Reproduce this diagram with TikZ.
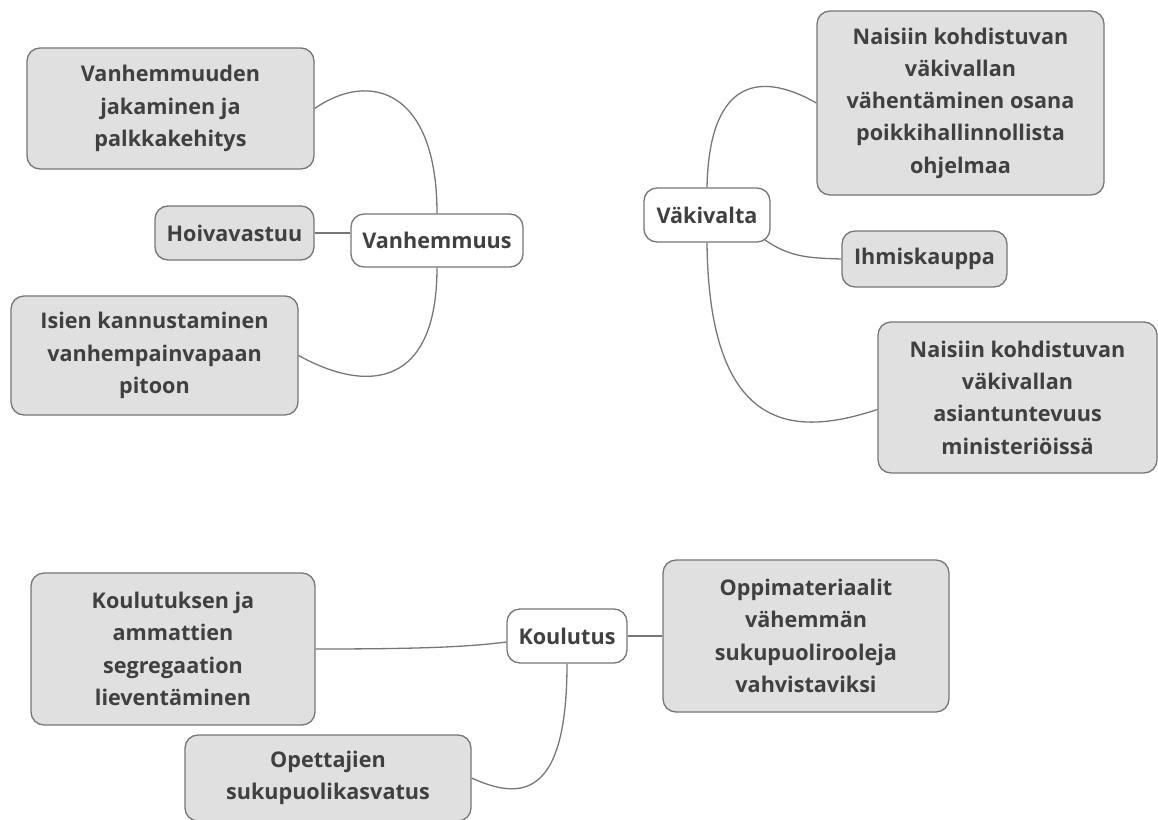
\documentclass[tikz,border=0pt]{standalone}
\usepackage{fontspec}
\setmainfont{Open Sans}
\usepackage{tikz}
\usetikzlibrary{backgrounds}
\definecolor{boxgray}{HTML}{E0E0E0}
\definecolor{rimgray}{HTML}{767676}
\definecolor{inkgray}{HTML}{404040}
\tikzset{
  % solmut
  hub/.style={rectangle,rounded corners=13pt,draw=rimgray,fill=white,line width=1.3pt,
              inner sep=0pt,text=inkgray,align=center},
  topic/.style={hub,fill=boxgray},
  wd/.style={minimum width=#1},
  ht/.style={minimum height=#1},
  % yhteydet
  link/.style={draw=rimgray,line width=1.3pt},
}

\begin{document}
\begin{tikzpicture}[x=1pt,y=-1pt,every node/.append style={font=\bfseries\fontsize{21.6}{32.3}\selectfont}]
  \useasboundingbox (0,0) rectangle (1158,819);
  % Vanhemmuus
  \node[hub,wd=172pt,ht=53pt] (vanh) at (437,240.5) {Vanhemmuus};
  \node[topic,wd=287pt,ht=121pt] (jako) at (170.5,108.5) {Vanhemmuuden\\jakaminen ja\\palkkakehitys};
  \node[topic,wd=159pt,ht=54pt] (hoiva) at (234.5,233) {Hoivavastuu};
  \node[topic,wd=287pt,ht=119pt] (isien) at (154.5,355.5) {Isien kannustaminen\\vanhempainvapaan\\pitoon};
  % Väkivalta
  \node[hub,wd=126pt,ht=54pt] (vak) at (707,215) {Väkivalta};
  \node[topic,wd=287pt,ht=184pt] (nais1) at (960.5,103) {Naisiin kohdistuvan\\väkivallan\\vähentäminen osana\\poikkihallinnollista\\ohjelmaa};
  \node[topic,wd=165pt,ht=56pt] (ihm) at (924.5,259) {Ihmiskauppa};
  \node[topic,wd=279pt,ht=151pt] (nais2) at (1017.5,397.5) {Naisiin kohdistuvan\\väkivallan\\asiantuntevuus\\ministeriöissä};
  % Koulutus
  \node[hub,wd=120pt,ht=54pt] (koul) at (567,636) {Koulutus};
  \node[topic,wd=284pt,ht=152pt] (segr) at (173,649) {Koulutuksen ja\\ammattien\\segregaation\\lieventäminen};
  \node[topic,wd=286pt,ht=152pt] (oppi) at (806,636) {Oppimateriaalit\\vähemmän\\sukupuolirooleja\\vahvistaviksi};
  \node[topic,wd=286pt,ht=86pt] (opet) at (328,778) {Opettajien\\sukupuolikasvatus};
  \begin{scope}[on background layer]
  \draw[link] (vanh.north) .. controls (437,90) and (370,70) .. (jako.east);
  \draw[link] (hoiva.east) -- (hoiva.east -| vanh.west);
  \draw[link] (vanh.south) .. controls (437,385) and (370,395) .. (isien.east);
  \draw[link] (vak.north) .. controls (709,85) and (755,68) .. (nais1.west);
  \draw[link] ([xshift=-6pt,yshift=3pt]vak.south east) .. controls (790,258) and (812,258) .. (ihm.west);
  \draw[link] (vak.south) .. controls (709,440) and (800,435) .. ([yshift=-12pt]nais2.west);
  \draw[link] (segr.east) .. controls (420,649) and (467,647) .. ([yshift=-6pt]koul.west);
  \draw[link] (koul.east) -- (oppi.west);
  \draw[link] (koul.south) .. controls (567,800) and (520,800) .. (opet.east);
  \end{scope}
\end{tikzpicture}
\end{document}
